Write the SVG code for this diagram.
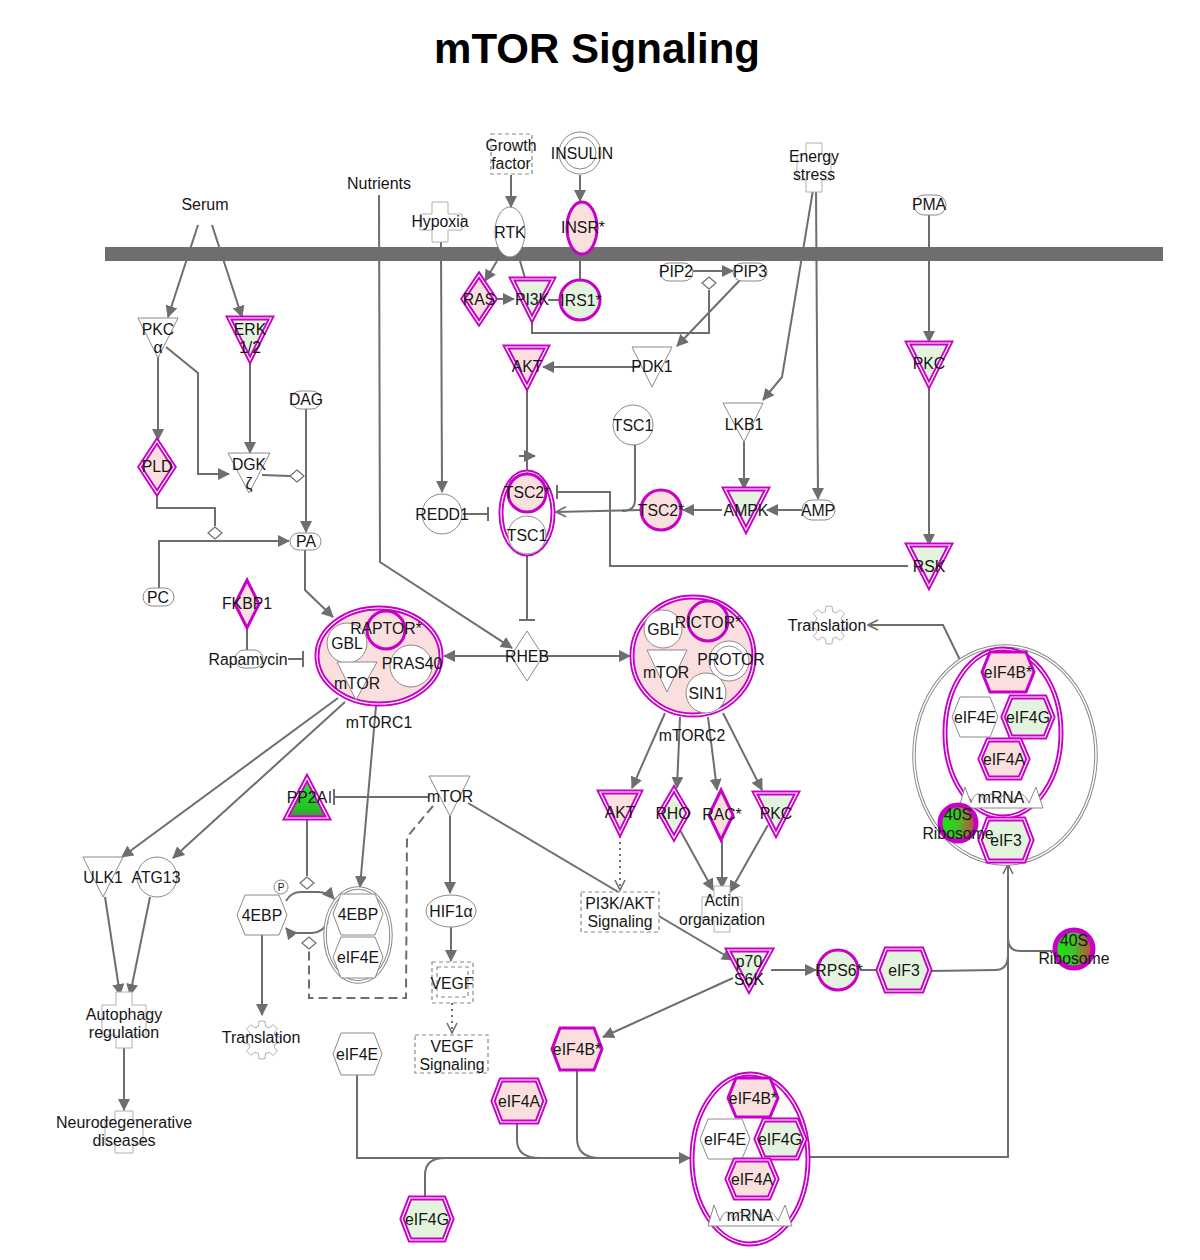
<svg xmlns="http://www.w3.org/2000/svg" xmlns:xlink="http://www.w3.org/1999/xlink" width="1200" height="1260" viewBox="0 0 1200 1260">
<style>
text{font-family:"Liberation Sans",Arial,sans-serif;font-size:15.8px;text-anchor:middle;fill:#151515}
.lb{font-size:16px}
.title{font-size:42px;font-weight:bold;fill:#000}
.c{fill:none;stroke:#6e6e6e;stroke-width:2}
.a{marker-end:url(#arr)}
.oa{marker-end:url(#open)}
.dash{stroke-dasharray:9,5}
.dot{stroke-dasharray:2,4}
.g{fill:#fff;stroke:#8a8a8a;stroke-width:1}
.fx{fill:#fff;stroke:#b0b0b0;stroke-width:1}
.db{fill:#fff;stroke:#8a8a8a;stroke-width:1.2;stroke-dasharray:4,3}
.m{stroke:#c800c8;stroke-width:5}
.mi{fill:none;stroke:#fff;stroke-width:1.2}
.ms{stroke:#c800c8;stroke-width:3}
.gd{fill:none;stroke:#8a8a8a;stroke-width:3.5}
.gdi{fill:none;stroke:#fff;stroke-width:1.5}
.pk{fill:#fbdfdf}
.gr{fill:#e3f3de}
.w{fill:#fff}
.cat{fill:#fff;stroke:#6e6e6e;stroke-width:1.2}
</style>
<defs>
<marker id="arr" viewBox="0 0 12 12" refX="11" refY="6" markerWidth="12" markerHeight="12" markerUnits="userSpaceOnUse" orient="auto"><path d="M0,0 L12,6 L0,12 z" fill="#6e6e6e"/></marker>
<marker id="open" viewBox="0 0 12 12" refX="11" refY="6" markerWidth="12" markerHeight="12" markerUnits="userSpaceOnUse" orient="auto"><path d="M1,1 L11,6 L1,11" fill="none" stroke="#6e6e6e" stroke-width="1.6"/></marker>
<linearGradient id="rib" x1="0" y1="0" x2="1" y2="0"><stop offset="0" stop-color="#10e810"/><stop offset="0.45" stop-color="#3cc828"/><stop offset="1" stop-color="#d0403c"/></linearGradient>
<linearGradient id="pp2a" x1="0" y1="0" x2="0" y2="1"><stop offset="0" stop-color="#38e838"/><stop offset="0.8" stop-color="#22c022"/><stop offset="1" stop-color="#707070"/></linearGradient>
<polygon id="gear" points="13.5,-3.6 18.8,-3 18.8,3 13.5,3.6 12.1,7 15.4,11.2 11.2,15.4 7,12.1 3.6,13.5 3,18.8 -3,18.8 -3.6,13.5 -7,12.1 -11.2,15.4 -15.4,11.2 -12.1,7 -13.5,3.6 -18.8,3 -18.8,-3 -13.5,-3.6 -12.1,-7 -15.4,-11.2 -11.2,-15.4 -7,-12.1 -3.6,-13.5 -3,-18.8 3,-18.8 3.6,-13.5 7,-12.1 11.2,-15.4 15.4,-11.2 12.1,-7" fill="#fff" stroke="#b0b0b0" stroke-width="1"/>
<path id="mrna" d="M-42,11 L-36,-10 L-30,6 C-26,-6 -20,-6 -16,6 C-12,-6 -6,-6 -2,6 C2,-6 8,-6 12,6 C16,-6 22,-6 28,6 L35,-10 L42,11 Z" fill="#fff" stroke="#8a8a8a" stroke-width="1"/>
</defs>

<rect width="1200" height="1260" fill="#fff"/>
<text x="597" y="63" class="title">mTOR Signaling</text>

<g id="membrane"><rect x="105" y="247" width="1058" height="14" fill="#6e6e6e"/></g>

<g id="connectors">
<path class="c a" d="M198,225 L168,317"/>
<path class="c a" d="M212,225 L242,317"/>
<path class="c a" d="M158,350 L158,440"/>
<path class="c a" d="M166,347 L198,373 L198,474 L229,474"/>
<path class="c a" d="M250,355 L250,453"/>
<path class="c" d="M262,475 L290,476"/>
<path class="c a" d="M306,409 L306,532"/>
<path class="c" d="M157,492 L157,508 L215,508 L215,526"/>
<path class="c a" d="M159,588 L159,541 L289,541"/>
<path class="c a" d="M305,549 L305,590 L333,617"/>
<path class="c" d="M247,629 L247,650"/>
<path class="c" d="M288,659 L303,659 M303,651 L303,667"/>
<path class="c a" d="M379,195 L380,562 L512,648"/>
<path class="c a" d="M441,242 L442,492"/>
<path class="c" d="M463,514 L488,514 M488,507 L488,521"/>
<path class="c a" d="M511,175 L511,207"/>
<path class="c a" d="M580,175 L580,201"/>
<path class="c" d="M580,254 L580,279"/>
<path class="c a" d="M497,261 L485,281"/>
<path class="c" d="M520,261 L525,278"/>
<path class="c a" d="M495,299 L514,299"/>
<path class="c" d="M559,300 L548,300"/>
<path class="c" d="M532,319 L532,333 L709,333 L709,290"/>
<path class="c a" d="M693,271 L733,271"/>
<path class="c a" d="M740,280 L677,346"/>
<path class="c a" d="M640,367 L543,367"/>
<path class="c a" d="M527,387 L527,470 M519,456 L535,456"/>
<path class="c" d="M635,445 L635,500 Q635,511 622,511"/>
<path class="c oa" d="M641,510 L556,512"/>
<path class="c a" d="M722,510 L683,510"/>
<path class="c a" d="M802,510 L767,510"/>
<path class="c a" d="M744,442 L744,489"/>
<path class="c a" d="M813,190 L782,377 L763,400"/>
<path class="c a" d="M816,190 L818,499"/>
<path class="c a" d="M929,215 L929,342"/>
<path class="c a" d="M929,385 L929,545"/>
<path class="c" d="M908,566 L610,566 L610,492 L558,492 M557,485 L557,499"/>
<path class="c" d="M527,555 L527,620 M519,620 L535,620"/>
<path class="c a" d="M511,656 L444,656"/>
<path class="c a" d="M543,656 L630,656"/>
<path class="c a" d="M665,713 L632,788"/>
<path class="c a" d="M680,717 L677,788"/>
<path class="c a" d="M708,717 L717,790"/>
<path class="c a" d="M723,713 L762,790"/>
<path class="c a" d="M680,830 L713,890"/>
<path class="c a" d="M722,840 L722,888"/>
<path class="c a" d="M768,825 L730,892"/>
<path class="c dot oa" d="M620,836 L620,890"/>
<path class="c a" d="M468,803 L733,960"/>
<path class="c a" d="M771,970 L816,970"/>
<path class="c" d="M860,970 L878,970"/>
<path class="c" d="M930,971 L995,970 Q1008,970 1008,955"/>
<path class="c" d="M1053,951 L1020,951 Q1008,951 1008,938"/>
<path class="c oa" d="M810,1157 L1008,1157 L1008,864"/>
<path class="c oa" d="M960,660 L943,625 L868,625"/>
<path class="c a" d="M733,978 L603,1037"/>
<path class="c a" d="M357,1075 L357,1158 L690,1158"/>
<path class="c" d="M517,1122 L517,1140 Q517,1158 540,1158"/>
<path class="c" d="M577,1070 L577,1138 Q577,1158 600,1158"/>
<path class="c" d="M425,1198 L425,1175 Q425,1158 445,1158"/>
<path class="c a" d="M376,706 L360,887"/>
<path class="c a" d="M338,698 L122,857"/>
<path class="c a" d="M345,702 L173,858"/>
<path class="c a" d="M105,897 L120,995"/>
<path class="c a" d="M150,897 L130,995"/>
<path class="c a" d="M124,1045 L124,1110"/>
<path class="c a" d="M262,935 L262,1015"/>
<path class="c" d="M429,797 L334,797 M334,789 L334,805 M330,791 L330,803"/>
<path class="c" d="M307,818 L307,876"/>
<path class="c a" d="M286,901 Q291,892 301,892 L318,892 Q328,892 334,899"/>
<path class="c a" d="M328,922 Q322,933 312,933 L298,933 Q290,933 286,928"/>
<path class="c dash" d="M433,806 L407,837 L406,998 L309,998 L309,950"/>
<path class="c a" d="M450,816 L450,893"/>
<path class="c a" d="M451,927 L451,961"/>
<path class="c dot oa" d="M452,1003 L452,1033"/>
<polygon class="cat" points="290,476 297,470 304,476 297,482"/>
<polygon class="cat" points="208,533 215,527 222,533 215,539"/>
<polygon class="cat" points="702,283 709,277 716,283 709,289"/>
<polygon class="cat" points="300,883 307,877 314,883 307,889"/>
<polygon class="cat" points="302,943 309,937 316,943 309,949"/>
</g>

<g id="serum"><text x="205" y="210" class="lb">Serum</text></g>
<g id="nutrients"><text x="379" y="189" class="lb">Nutrients</text></g>
<g id="growth-factor"><rect x="491" y="134" width="41" height="40" class="db"/><text x="511" y="151">Growth</text><text x="511" y="169">factor</text></g>
<g id="insulin"><circle cx="580" cy="153" r="21" class="g"/><circle cx="580" cy="153" r="16" class="g"/><text x="582" y="159">INSULIN</text></g>
<g id="hypoxia"><path d="M432,202 H448 V214 H462 V230 H448 V242 H432 V230 H420 V214 H432 Z" class="fx"/><text x="440" y="227">Hypoxia</text></g>
<g id="rtk"><ellipse cx="510" cy="232" rx="15" ry="25" class="g"/><text x="510" y="238">RTK</text></g>
<g id="insr"><ellipse cx="582" cy="228" rx="15" ry="26" class="ms pk"/><text x="583" y="233">INSR*</text></g>
<g id="energy-stress"><path d="M806,143 H822 V155 H831 V180 H822 V192 H806 V180 H797 V155 H806 Z" class="fx"/><text x="814" y="162">Energy</text><text x="814" y="180">stress</text></g>
<g id="pma"><rect x="914" y="195" width="32" height="20" rx="10" class="g"/><text x="929" y="210">PMA</text></g>

<g id="pkca"><polygon points="138,318 178,318 158,358" class="g"/><text x="158" y="335">PKC</text><text x="158" y="353">α</text></g>
<g id="erk"><polygon points="229,318 271,318 250,360" class="m gr"/><polygon points="229,318 271,318 250,360" class="mi"/><text x="250" y="335">ERK</text><text x="250" y="353">1/2</text></g>
<g id="dag"><rect x="291" y="391" width="30" height="18" rx="9" class="g"/><text x="306" y="405">DAG</text></g>
<g id="pld"><polygon points="157,441 174,467 157,493 140,467" class="m pk"/><polygon points="157,441 174,467 157,493 140,467" class="mi"/><text x="157" y="472">PLD</text></g>
<g id="dgk"><polygon points="228,453 270,453 249,493" class="g"/><text x="249" y="470">DGK</text><text x="249" y="489">ζ</text></g>
<g id="pa"><rect x="290" y="533" width="31" height="17" rx="8.5" class="g"/><text x="306" y="547">PA</text></g>
<g id="pc"><rect x="143" y="588" width="31" height="18" rx="9" class="g"/><text x="158" y="603">PC</text></g>
<g id="fkbp1"><polygon points="247,580 259,604 247,628 235,604" class="ms pk"/><text x="247" y="609">FKBP1</text></g>
<g id="rapamycin"><rect x="235" y="650" width="28" height="18" rx="9" class="g"/><text x="248" y="665">Rapamycin</text></g>

<g id="ras"><polygon points="479,275 495,299 479,323 463,299" class="m pk"/><polygon points="479,275 495,299 479,323 463,299" class="mi"/><text x="479" y="305">RAS</text></g>
<g id="pi3k"><polygon points="512,279 553,279 532,319" class="m gr"/><polygon points="512,279 553,279 532,319" class="mi"/><text x="532" y="305">PI3K</text></g>
<g id="irs1"><circle cx="580" cy="300" r="20" class="ms gr"/><text x="581" y="306">IRS1*</text></g>
<g id="pip2"><rect x="660" y="263" width="33" height="18" rx="9" class="g"/><text x="676" y="277">PIP2</text></g>
<g id="pip3"><rect x="733" y="263" width="34" height="18" rx="9" class="g"/><text x="750" y="277">PIP3</text></g>
<g id="pdk1"><polygon points="632,347 672,347 652,387" class="g"/><text x="652" y="372">PDK1</text></g>
<g id="akt"><polygon points="506,347 547,347 527,387" class="m pk"/><polygon points="506,347 547,347 527,387" class="mi"/><text x="527" y="372">AKT</text></g>
<g id="tsc1"><circle cx="633" cy="425" r="20" class="g"/><text x="633" y="431">TSC1</text></g>
<g id="lkb1"><polygon points="723,403 763,403 744,442" class="g"/><text x="744" y="430">LKB1</text></g>
<g id="pkc-right"><polygon points="908,343 950,343 929,385" class="m gr"/><polygon points="908,343 950,343 929,385" class="mi"/><text x="929" y="369">PKC</text></g>

<g id="redd1"><circle cx="442" cy="514" r="20" class="g"/><text x="442" y="520">REDD1</text></g>
<g id="tsc-complex"><ellipse cx="527" cy="513" rx="26" ry="41" class="m w"/><ellipse cx="527" cy="513" rx="26" ry="41" class="mi"/><circle cx="527" cy="493" r="19" class="ms pk"/><circle cx="527" cy="535" r="19" class="g"/><text x="527" y="498">TSC2*</text><text x="527" y="541">TSC1</text></g>
<g id="tsc2"><circle cx="661" cy="510" r="20" class="ms pk"/><text x="661" y="516">TSC2*</text></g>
<g id="ampk"><polygon points="725,489 767,489 746,530" class="m gr"/><polygon points="725,489 767,489 746,530" class="mi"/><text x="746" y="516">AMPK</text></g>
<g id="amp"><rect x="802" y="500" width="33" height="20" rx="10" class="g"/><text x="818" y="516">AMP</text></g>
<g id="rsk"><polygon points="908,545 950,545 929,586" class="m gr"/><polygon points="908,545 950,545 929,586" class="mi"/><text x="929" y="572">RSK</text></g>

<g id="mtorc1"><ellipse cx="379" cy="656" rx="62" ry="48" class="m pk"/><ellipse cx="379" cy="656" rx="62" ry="48" class="mi"/><circle cx="347" cy="643" r="20" class="g"/><circle cx="386" cy="630" r="19" class="ms pk"/><circle cx="411" cy="666" r="21" class="g"/><polygon points="337,662 377,662 356,700" class="g"/><text x="347" y="649">GBL</text><text x="386" y="634">RAPTOR*</text><text x="412" y="669">PRAS40</text><text x="357" y="689">mTOR</text><text x="379" y="728">mTORC1</text></g>
<g id="rheb"><polygon points="527,631 543,656 527,681 511,656" class="g"/><text x="527" y="662">RHEB</text></g>
<g id="mtorc2"><ellipse cx="693" cy="656" rx="61" ry="59" class="m pk"/><ellipse cx="693" cy="656" rx="61" ry="59" class="mi"/><circle cx="663" cy="629" r="19" class="g"/><circle cx="708" cy="621" r="20" class="ms pk"/><circle cx="729" cy="661" r="20" class="g"/><circle cx="729" cy="661" r="15" class="g"/><polygon points="647,650 687,650 667,692" class="g"/><circle cx="706" cy="693" r="20" class="g"/><text x="663" y="635">GBL</text><text x="708" y="628">RICTOR*</text><text x="731" y="665">PROTOR</text><text x="666" y="678">mTOR</text><text x="706" y="699">SIN1</text><text x="692" y="741">mTORC2</text></g>
<g id="translation-right"><use xlink:href="#gear" x="829" y="625"/><text x="827" y="631" class="lb">Translation</text></g>

<g id="ribosome-complex"><ellipse cx="1005" cy="755" rx="91" ry="109" class="gd"/><ellipse cx="1005" cy="755" rx="91" ry="109" class="gdi"/><ellipse cx="1003" cy="733" rx="58" ry="84" class="m w"/><ellipse cx="1003" cy="733" rx="58" ry="84" class="mi"/>
<polygon points="982,672 990,652 1026,652 1034,672 1026,692 990,692" class="ms pk"/>
<polygon points="952,717 960,697 990,697 998,717 990,737 960,737" class="g"/>
<polygon points="1003,717 1011,697 1045,697 1053,717 1045,737 1011,737" class="m gr"/><polygon points="1003,717 1011,697 1045,697 1053,717 1045,737 1011,737" class="mi"/>
<polygon points="980,759 988,740 1020,740 1028,759 1020,778 988,778" class="m pk"/><polygon points="980,759 988,740 1020,740 1028,759 1020,778 988,778" class="mi"/>
<use xlink:href="#mrna" x="1001" y="797"/>
<polygon points="980,840 988,819 1024,819 1032,840 1024,861 988,861" class="m gr"/><polygon points="980,840 988,819 1024,819 1032,840 1024,861 988,861" class="mi"/>
<circle cx="958" cy="823" r="18" class="m" fill="url(#rib)"/>
<text x="1008" y="678">eIF4B*</text><text x="975" y="723">eIF4E</text><text x="1028" y="723">eIF4G</text><text x="1004" y="765">eIF4A</text><text x="1001" y="803">mRNA</text><text x="958" y="820">40S</text><text x="958" y="839">Ribosome</text><text x="1006" y="846">eIF3</text></g>

<g id="pp2a"><polygon points="307,778 328,818 286,818" class="m" fill="url(#pp2a)"/><polygon points="307,778 328,818 286,818" class="mi"/><text x="307" y="803">PP2A</text></g>
<g id="mtor"><polygon points="429,776 470,776 450,816" class="g"/><text x="450" y="802">mTOR</text></g>
<g id="akt-lower"><polygon points="600,792 640,792 620,833" class="m pk"/><polygon points="600,792 640,792 620,833" class="mi"/><text x="620" y="818">AKT</text></g>
<g id="rho"><polygon points="674,789 688,813 674,838 660,813" class="m gr"/><polygon points="674,789 688,813 674,838 660,813" class="mi"/><text x="673" y="819">RHO</text></g>
<g id="rac"><polygon points="721,790 733,815 721,840 709,815" class="ms pk"/><text x="722" y="820">RAC*</text></g>
<g id="pkc-lower"><polygon points="755,793 797,793 776,834" class="m gr"/><polygon points="755,793 797,793 776,834" class="mi"/><text x="776" y="819">PKC</text></g>

<g id="ulk1"><polygon points="83,857 123,857 103,897" class="g"/><text x="103" y="883">ULK1</text></g>
<g id="atg13"><circle cx="157" cy="877" r="20" class="g"/><text x="156" y="883">ATG13</text></g>
<g id="4ebp"><polygon points="237,915 245,895 279,895 287,915 279,935 245,935" class="g"/><text x="262" y="921">4EBP</text><circle cx="281" cy="887" r="7" class="g"/><text x="281" y="891" style="font-size:10px">P</text></g>
<g id="4ebp-eif4e-complex"><ellipse cx="358" cy="935" rx="33" ry="47" class="gd"/><ellipse cx="358" cy="935" rx="33" ry="47" class="gdi"/>
<polygon points="333,914 341,894 375,894 383,914 375,935 341,935" class="g"/><polygon points="333,957 341,937 375,937 383,957 375,978 341,978" class="g"/><text x="358" y="920">4EBP</text><text x="358" y="963">eIF4E</text></g>
<g id="hif1a"><ellipse cx="451" cy="911" rx="25" ry="16" class="g"/><text x="451" y="917">HIF1α</text></g>
<g id="pi3k-akt-signaling"><rect x="581" y="892" width="78" height="40" class="db"/><text x="620" y="909">PI3K/AKT</text><text x="620" y="927">Signaling</text></g>
<g id="actin"><path d="M714,886 H730 V897 H742 V920 H730 V932 H714 V920 H702 V897 H714 Z" class="fx"/><text x="722" y="906">Actin</text><text x="722" y="925">organization</text></g>
<g id="p70s6k"><polygon points="728,950 771,950 749,990" class="m gr"/><polygon points="728,950 771,950 749,990" class="mi"/><text x="749" y="967">p70</text><text x="749" y="985">S6K</text></g>
<g id="rps6"><circle cx="838" cy="970" r="20" class="ms gr"/><text x="839" y="976">RPS6*</text></g>
<g id="eif3"><polygon points="878,970 886,949 922,949 930,970 922,991 886,991" class="m gr"/><polygon points="878,970 886,949 922,949 930,970 922,991 886,991" class="mi"/><text x="904" y="976">eIF3</text></g>
<g id="ribosome-40s"><circle cx="1074" cy="949" r="19" class="m" fill="url(#rib)"/><text x="1074" y="946">40S</text><text x="1074" y="964">Ribosome</text></g>
<g id="vegf"><rect x="432" y="962" width="41" height="41" class="db"/><rect x="437" y="967" width="31" height="30" class="db"/><text x="452" y="989">VEGF</text></g>
<g id="vegf-signaling"><rect x="415" y="1035" width="73" height="38" class="db"/><text x="452" y="1052">VEGF</text><text x="452" y="1070">Signaling</text></g>
<g id="autophagy"><path d="M116,992 H132 V1005 H146 V1035 H132 V1048 H116 V1035 H102 V1005 H116 Z" class="fx"/><text x="124" y="1020" class="lb">Autophagy</text><text x="124" y="1038" class="lb">regulation</text></g>
<g id="translation-left"><use xlink:href="#gear" x="262" y="1040"/><text x="261" y="1043" class="lb">Translation</text></g>
<g id="eif4e"><polygon points="333,1054 341,1033 374,1033 382,1054 374,1075 341,1075" class="g"/><text x="357" y="1060">eIF4E</text></g>
<g id="eif4b"><polygon points="552,1049 560,1028 594,1028 602,1049 594,1070 560,1070" class="ms pk"/><text x="577" y="1055">eIF4B*</text></g>
<g id="eif4a"><polygon points="493,1101 501,1080 537,1080 545,1101 537,1122 501,1122" class="m pk"/><polygon points="493,1101 501,1080 537,1080 545,1101 537,1122 501,1122" class="mi"/><text x="519" y="1107">eIF4A</text></g>
<g id="neurodegenerative"><path d="M115,1111 H133 V1120 H143 V1144 H133 V1153 H115 V1144 H105 V1120 H115 Z" class="fx"/><text x="124" y="1128" class="lb">Neurodegenerative</text><text x="124" y="1146" class="lb">diseases</text></g>
<g id="eif4g"><polygon points="402,1219 410,1198 444,1198 452,1219 444,1240 410,1240" class="m gr"/><polygon points="402,1219 410,1198 444,1198 452,1219 444,1240 410,1240" class="mi"/><text x="427" y="1225">eIF4G</text></g>

<g id="eif4-complex"><ellipse cx="750" cy="1159" rx="58" ry="85" class="m w"/><ellipse cx="750" cy="1159" rx="58" ry="85" class="mi"/>
<polygon points="728,1098 736,1078 770,1078 778,1098 770,1117 736,1117" class="ms pk"/>
<polygon points="700,1139 708,1119 742,1119 750,1139 742,1159 708,1159" class="g"/>
<polygon points="756,1139 764,1120 797,1120 805,1139 797,1158 764,1158" class="m gr"/><polygon points="756,1139 764,1120 797,1120 805,1139 797,1158 764,1158" class="mi"/>
<polygon points="727,1179 735,1160 769,1160 777,1179 769,1198 735,1198" class="m pk"/><polygon points="727,1179 735,1160 769,1160 777,1179 769,1198 735,1198" class="mi"/>
<use xlink:href="#mrna" x="750" y="1215"/>
<text x="753" y="1104">eIF4B*</text><text x="725" y="1145">eIF4E</text><text x="780" y="1145">eIF4G</text><text x="752" y="1185">eIF4A</text><text x="750" y="1221">mRNA</text></g>
</svg>
